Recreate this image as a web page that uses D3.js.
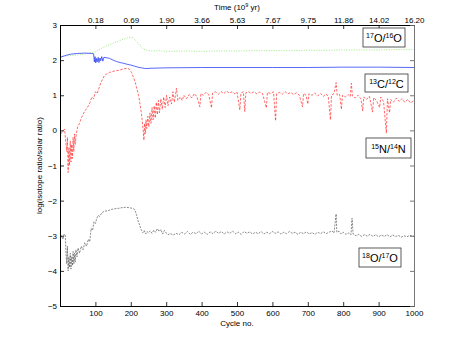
<!DOCTYPE html>
<html>
<head>
<meta charset="utf-8">
<script src="https://cdn.jsdelivr.net/npm/d3@7"></script>
<style>
  body { margin: 0; background: #fff; }
  text { font-family: "Liberation Sans", Arial, sans-serif; }
</style>
</head>
<body>
<div id="chart"></div>
<script>
// cycle ticks and the matching age labels on the top axis
const cycleTicks = [100, 200, 300, 400, 500, 600, 700, 800, 900, 1000];
const timeLabels = ['0.18', '0.69', '1.90', '3.66', '5.63', '7.67', '9.75', '11.86', '14.02', '16.20'];
const yTicks = [-5, -4, -3, -2, -1, 0, 1, 2, 3];

// 17O/16O  [cycle, log ratio]
const o17o16 = [[0,2.1],[20,2.12],[40,2.14],[60,2.16],[80,2.19],[100,2.24],[120,2.35],[140,2.44],[160,2.52],[180,2.6],[195,2.65],[205,2.64],[215,2.55],[225,2.42],[235,2.32],[245,2.28],[260,2.26],[280,2.27],[300,2.25],[350,2.26],[400,2.25],[450,2.26],[500,2.26],[550,2.27],[600,2.27],[650,2.27],[700,2.28],[750,2.28],[800,2.29],[850,2.29],[900,2.29],[950,2.3],[1000,2.3]];

// 13C/12C
const c13c12 = [[0,2.08],[15,2.13],[30,2.17],[50,2.19],[70,2.2],[90,2.19],[95,2.18],[97,1.95],[99,2.1],[101,1.92],[103,2.05],[105,1.95],[108,2.08],[110,1.93],[113,2.06],[115,1.98],[118,2.1],[121,1.97],[124,2.08],[130,2.07],[140,2.05],[150,2.0],[160,1.96],[170,1.93],[180,1.91],[190,1.88],[200,1.86],[210,1.83],[220,1.8],[230,1.78],[242,1.76],[260,1.77],[300,1.78],[400,1.79],[500,1.79],[600,1.79],[700,1.79],[800,1.8],[900,1.8],[1000,1.79]];

// 15N/14N
const n15n14 = [[0,-0.2],[5,-0.05],[10,0.0],[13,0.04],[16,-0.3],[19,-0.6],[21,-0.2],[23,-1.2],[25,-0.5],[27,-1.0],[29,-0.3],[31,-0.9],[33,-0.4],[35,-0.8],[37,-0.2],[39,-0.6],[41,-0.1],[43,-0.4],[46,-0.1],[50,0.1],[55,0.2],[60,0.35],[65,0.45],[70,0.55],[75,0.62],[80,0.7],[85,0.8],[90,0.95],[95,0.9],[100,1.1],[105,1.05],[110,1.2],[115,1.35],[120,1.45],[125,1.55],[130,1.6],[140,1.65],[150,1.68],[160,1.7],[170,1.72],[180,1.75],[190,1.77],[196,1.74],[202,1.65],[208,1.5],[213,1.35],[218,1.15],[222,1.0],[226,0.75],[229,0.55],[232,0.3],[235,0.0],[237,-0.28],[239,0.2],[241,-0.1],[243,0.3],[245,0.05],[248,0.4],[251,0.1],[254,0.5],[257,0.2],[260,0.65],[263,0.3],[266,0.7],[269,0.35],[272,0.8],[275,0.45],[278,0.85],[281,0.5],[285,0.9],[289,0.6],[293,0.95],[297,0.65],[301,1.0],[305,0.7],[310,0.95],[315,0.75],[319,1.1],[323,0.8],[329,1.2],[333,0.85],[340,0.95],[345,0.85],[350,1.0],[357,0.9],[365,1.02],[372,0.92],[380,1.05],[387,0.95],[395,0.67],[398,1.05],[405,1.0],[412,1.08],[420,1.02],[428,0.64],[431,1.06],[440,1.1],[448,1.03],[455,1.1],[463,1.05],[470,1.12],[478,1.06],[486,1.1],[494,1.04],[500,1.09],[508,0.58],[511,1.06],[518,1.1],[522,0.53],[525,1.07],[533,1.1],[540,1.05],[548,1.1],[556,1.04],[564,1.09],[572,1.05],[583,0.64],[586,1.08],[595,1.05],[603,1.1],[609,0.27],[612,1.05],[620,1.08],[628,1.03],[636,1.1],[644,1.04],[652,1.08],[660,1.02],[668,1.07],[676,1.0],[685,0.67],[688,1.05],[695,1.0],[700,0.75],[703,1.04],[712,1.0],[720,1.06],[728,0.98],[736,1.05],[744,0.97],[752,1.04],[758,0.95],[764,0.3],[767,1.0],[774,1.05],[780,1.36],[783,1.0],[790,1.02],[795,0.6],[798,1.0],[806,0.95],[814,1.02],[820,0.96],[823,1.34],[826,0.98],[834,0.92],[842,1.0],[850,0.9],[855,0.55],[858,0.95],[866,0.88],[874,0.97],[883,0.52],[886,0.93],[894,0.85],[903,0.65],[906,0.95],[914,0.82],[922,-0.08],[925,0.9],[931,0.5],[934,0.88],[942,0.8],[950,0.92],[958,0.82],[966,0.9],[974,0.8],[982,0.88],[990,0.78],[1000,0.85]];

// 18O/17O
const o18o17 = [[0,-2.95],[4,-3.0],[8,-3.1],[12,-2.95],[15,-3.0],[17,-3.5],[19,-3.8],[21,-3.3],[23,-4.0],[25,-3.6],[27,-3.9],[29,-3.5],[31,-3.95],[33,-3.6],[35,-3.85],[37,-3.45],[39,-3.8],[41,-3.5],[43,-3.75],[45,-3.4],[48,-3.6],[51,-3.35],[55,-3.5],[60,-3.3],[65,-3.4],[70,-3.2],[75,-3.3],[80,-3.1],[84,-3.17],[88,-2.79],[92,-2.85],[96,-2.6],[100,-2.65],[104,-2.5],[108,-2.42],[112,-2.45],[118,-2.35],[125,-2.3],[135,-2.29],[145,-2.25],[155,-2.23],[165,-2.22],[175,-2.2],[185,-2.19],[195,-2.2],[205,-2.22],[211,-2.25],[216,-2.4],[220,-2.56],[225,-2.7],[229,-2.82],[234,-2.91],[238,-2.85],[242,-2.95],[246,-2.88],[250,-2.92],[255,-2.86],[260,-2.93],[265,-2.84],[270,-2.9],[275,-2.8],[280,-2.88],[285,-2.82],[290,-2.95],[295,-2.85],[300,-2.92],[305,-2.97],[312,-2.94],[320,-2.98],[328,-2.93],[336,-2.97],[344,-2.9],[352,-2.95],[360,-2.88],[368,-2.96],[376,-2.9],[384,-2.94],[392,-2.87],[400,-2.95],[408,-2.9],[416,-2.96],[424,-2.89],[432,-2.94],[440,-2.87],[448,-2.93],[456,-2.88],[464,-2.95],[472,-2.89],[480,-2.93],[488,-2.87],[496,-2.94],[504,-2.9],[512,-2.96],[520,-2.88],[528,-2.93],[536,-2.89],[544,-2.95],[552,-2.9],[560,-2.94],[568,-2.88],[576,-2.95],[584,-2.9],[592,-2.94],[600,-2.88],[608,-2.93],[616,-2.89],[624,-2.95],[632,-2.9],[640,-2.94],[648,-2.88],[656,-2.93],[664,-2.9],[672,-2.96],[680,-2.9],[688,-2.94],[696,-2.89],[704,-2.95],[712,-2.91],[720,-2.96],[728,-2.9],[736,-2.94],[744,-2.89],[752,-2.94],[760,-2.9],[768,-2.86],[774,-2.92],[780,-2.38],[782,-2.9],[788,-2.87],[794,-2.95],[800,-2.9],[808,-2.96],[816,-2.92],[822,-2.97],[825,-2.5],[828,-2.95],[836,-3.0],[844,-2.96],[852,-3.02],[860,-2.97],[868,-3.01],[876,-2.96],[884,-3.02],[892,-2.97],[900,-3.03],[908,-2.98],[916,-3.02],[924,-2.97],[932,-3.03],[940,-2.98],[948,-3.02],[956,-2.99],[964,-3.04],[972,-3.0],[980,-3.03],[988,-2.99],[1000,-3.02]];

const seriesList = [
  { data: o17o16, color: '#86e266', dash: '1,1.5', width: 0.8, label: ['17', 'O/', '16', 'O'], box: [363, 28, 42, 19] },
  { data: c13c12, color: '#2f42f2', dash: null, width: 0.8, label: ['13', 'C/', '12', 'C'], box: [365, 74, 43, 18] },
  { data: n15n14, color: '#ff2a2a', dash: '2.5,1.5', width: 0.7, label: ['15', 'N/', '14', 'N'], box: [366, 138, 45, 20] },
  { data: o18o17, color: '#3a3a3a', dash: '2,1.2', width: 0.6, label: ['18', 'O/', '17', 'O'], box: [359, 248, 42, 19] }
];

const W = 458, H = 344;
const margin = { top: 25, right: 44, bottom: 38, left: 60 };
const width = W - margin.left - margin.right;
const height = H - margin.top - margin.bottom;

const svg = d3.select('#chart').append('svg')
  .attr('width', W).attr('height', H);
const g = svg.append('g')
  .attr('transform', 'translate(' + margin.left + ',' + margin.top + ')');

const x = d3.scaleLinear().domain([0, 1000]).range([0, width]);
const y = d3.scaleLinear().domain([-5, 3]).range([height, 0]);

// clip lines to plot area
g.append('clipPath').attr('id', 'clip')
  .append('rect').attr('width', width).attr('height', height);

const line = d3.line().x(d => x(d[0])).y(d => y(d[1]));

seriesList.forEach(s => {
  g.append('path')
    .datum(s.data)
    .attr('clip-path', 'url(#clip)')
    .attr('d', line)
    .attr('fill', 'none')
    .attr('stroke', s.color)
    .attr('stroke-width', s.width)
    .attr('stroke-dasharray', s.dash);
});

// axes, ticks inward
const axBottom = g.append('g')
  .attr('transform', 'translate(0,' + height + ')')
  .call(d3.axisBottom(x).tickValues(cycleTicks).tickSize(-4).tickPadding(4)
    .tickFormat(d3.format('d')));
const axTop = g.append('g')
  .call(d3.axisTop(x).tickValues(cycleTicks).tickSize(-4).tickPadding(2)
    .tickFormat((d, i) => timeLabels[i]));
const axLeft = g.append('g')
  .call(d3.axisLeft(y).tickValues(yTicks).tickSize(-4).tickPadding(3)
    .tickFormat(d => d < 0 ? '\u2212' + Math.abs(d) : d));
const axRight = g.append('g')
  .attr('transform', 'translate(' + width + ',0)')
  .call(d3.axisRight(y).tickValues(yTicks).tickSize(-4).tickFormat(''));

[axBottom, axTop, axLeft, axRight].forEach(a => {
  a.selectAll('text').attr('font-size', 8).attr('fill', '#000')
    .style('font-family', '"Liberation Sans", Arial, sans-serif');
  a.selectAll('line').attr('stroke', '#000').attr('stroke-width', 0.8);
  a.select('.domain').attr('stroke', '#000').attr('stroke-width', 1);
});
axRight.select('.domain').attr('stroke', '#777');
axRight.selectAll('line').attr('stroke', '#555');

// axis titles
svg.append('text')
  .attr('x', margin.left + width / 2).attr('y', 10)
  .attr('text-anchor', 'middle').attr('font-size', 8)
  .call(t => {
    t.append('tspan').text('Time (10');
    t.append('tspan').attr('dy', -3).attr('font-size', 5.5).text('9');
    t.append('tspan').attr('dy', 3).text(' yr)');
  });

svg.append('text')
  .attr('x', margin.left + width / 2).attr('y', 326)
  .attr('text-anchor', 'middle').attr('font-size', 8)
  .text('Cycle no.');

svg.append('text')
  .attr('transform', 'translate(' + 42 + ',' + (margin.top + height / 2) + ') rotate(-90)')
  .attr('text-anchor', 'middle').attr('font-size', 8)
  .text('log(isotope ratio/solar ratio)');

// labels in boxes
seriesList.forEach(s => {
  const [bx, by, bw, bh] = s.box;
  svg.append('rect')
    .attr('x', bx).attr('y', by).attr('width', bw).attr('height', bh)
    .attr('fill', '#fff').attr('stroke', '#333').attr('stroke-width', 0.8);
  const t = svg.append('text')
    .attr('x', bx + bw / 2).attr('y', by + bh / 2 + 4.5)
    .attr('text-anchor', 'middle').attr('font-size', 11);
  t.append('tspan').attr('font-size', 7).attr('dy', -4).text(s.label[0]);
  t.append('tspan').attr('dy', 4).text(s.label[1]);
  t.append('tspan').attr('font-size', 7).attr('dy', -4).text(s.label[2]);
  t.append('tspan').attr('dy', 4).text(s.label[3]);
});
</script>
</body>
</html>
